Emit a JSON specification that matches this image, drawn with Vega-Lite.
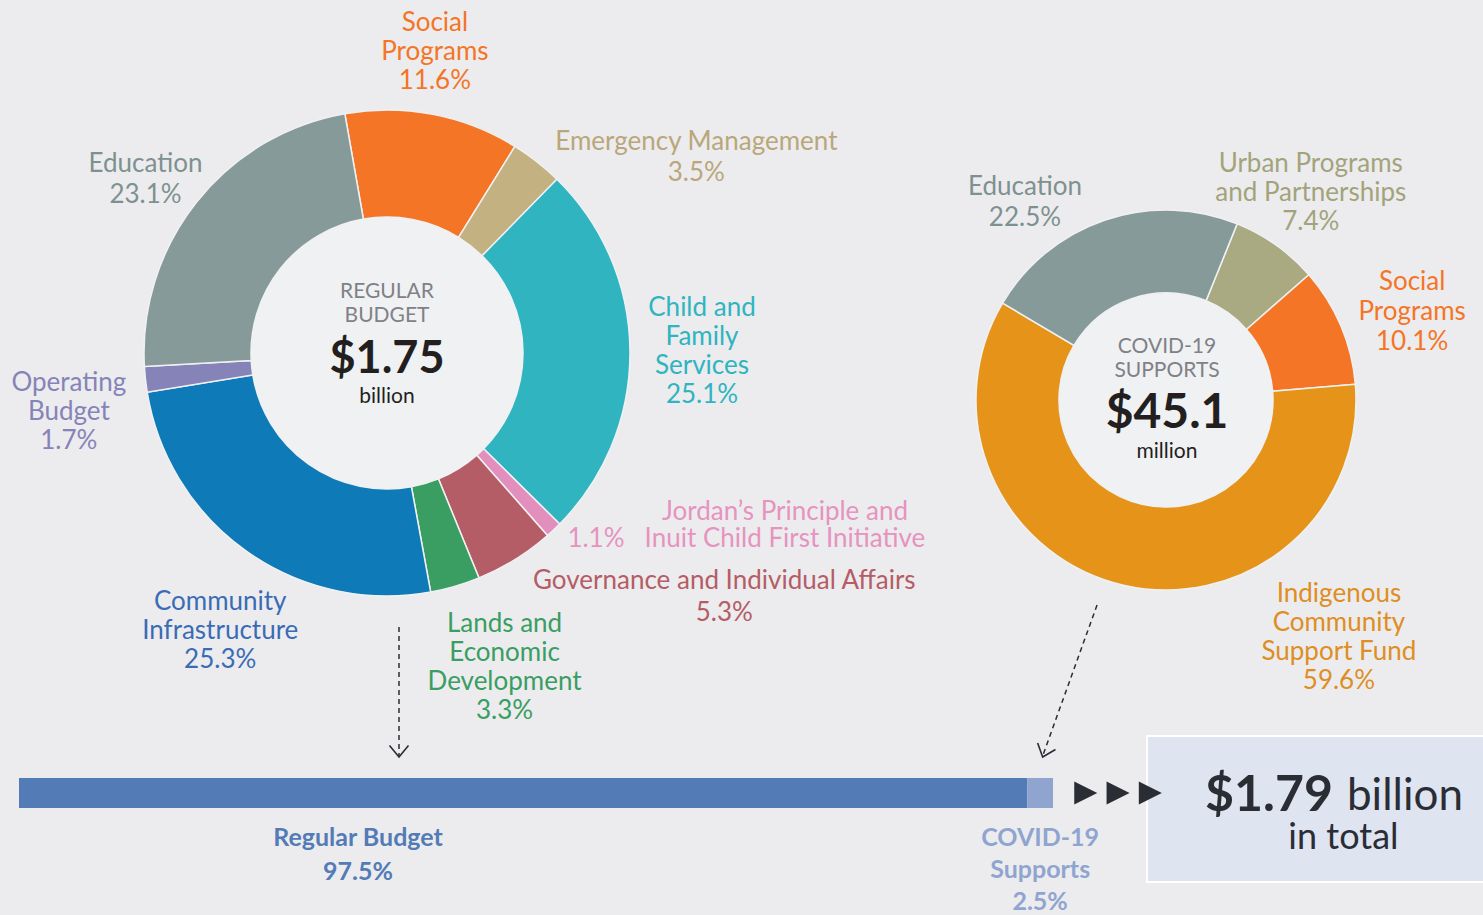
{
  "$schema": "https://vega.github.io/schema/vega-lite/v6.json",
  "width": 1483,
  "height": 915,
  "padding": 0,
  "autosize": {"type": "none"},
  "background": "#ECECEE",
  "config": {"view": {"stroke": null}, "font": "Lato", "text": {"font": "Lato"}},
  "datasets": {
    "regular": [
      {"budget": "Regular Budget", "category": "Social Programs", "share": 11.6, "ord": 1, "label": "Social\nPrograms\n11.6%", "pct": "11.6%"},
      {"budget": "Regular Budget", "category": "Emergency Management", "share": 3.5, "ord": 2, "label": "Emergency Management\n3.5%", "pct": "3.5%"},
      {"budget": "Regular Budget", "category": "Child and Family Services", "share": 25.1, "ord": 3, "label": "Child and\nFamily\nServices\n25.1%", "pct": "25.1%"},
      {"budget": "Regular Budget", "category": "Jordan’s Principle and Inuit Child First Initiative", "share": 1.1, "ord": 4, "label": "Jordan’s Principle and\nInuit Child First Initiative", "pct": "1.1%"},
      {"budget": "Regular Budget", "category": "Governance and Individual Affairs", "share": 5.3, "ord": 5, "label": "Governance and Individual Affairs\n5.3%", "pct": "5.3%"},
      {"budget": "Regular Budget", "category": "Lands and Economic Development", "share": 3.3, "ord": 6, "label": "Lands and\nEconomic\nDevelopment\n3.3%", "pct": "3.3%"},
      {"budget": "Regular Budget", "category": "Community Infrastructure", "share": 25.3, "ord": 7, "label": "Community\nInfrastructure\n25.3%", "pct": "25.3%"},
      {"budget": "Regular Budget", "category": "Operating Budget", "share": 1.7, "ord": 8, "label": "Operating\nBudget\n1.7%", "pct": "1.7%"},
      {"budget": "Regular Budget", "category": "Education", "share": 23.1, "ord": 9, "label": "Education\n23.1%", "pct": "23.1%"}
    ],
    "covid": [
      {"budget": "COVID-19 Supports", "category": "Urban Programs and Partnerships", "share": 7.4, "ord": 1, "label": "Urban Programs\nand Partnerships\n7.4%"},
      {"budget": "COVID-19 Supports", "category": "Social Programs", "share": 10.1, "ord": 2, "label": "Social\nPrograms\n10.1%"},
      {"budget": "COVID-19 Supports", "category": "Indigenous Community Support Fund", "share": 59.6, "ord": 3, "label": "Indigenous\nCommunity\nSupport Fund\n59.6%"},
      {"budget": "COVID-19 Supports", "category": "Education", "share": 22.5, "ord": 4, "label": "Education\n22.5%"}
    ],
    "budgets": [
      {"budget": "Regular Budget", "share": 97.5, "ord": 1, "heading": "REGULAR\nBUDGET", "amount": "$1.75", "unit": "billion", "barLabel": "Regular Budget\n97.5%"},
      {"budget": "COVID-19 Supports", "share": 2.5, "ord": 2, "heading": "COVID-19\nSUPPORTS", "amount": "$45.1", "unit": "million", "barLabel": "COVID-19\nSupports\n2.5%"}
    ],
    "total": [
      {"amount": "$1.79", "unit": "billion", "note": "in total"}
    ]
  },
  "layer": [
    {
      "data": {"name": "regular"},
      "encoding": {
        "x": {"field": "budget", "type": "nominal", "scale": {"type": "point", "domain": ["Regular Budget", "COVID-19 Supports"], "range": [387, 1166], "padding": 0}, "axis": null},
        "y": {"field": "budget", "type": "nominal", "scale": {"type": "point", "domain": ["Regular Budget", "COVID-19 Supports"], "range": [353, 400], "padding": 0}, "axis": null},
        "theta": {"field": "share", "type": "quantitative", "stack": true, "scale": {"domain": [0, 100], "range": [-0.1745, 6.1087]}},
        "order": {"field": "ord", "type": "quantitative", "sort": "ascending"},
        "color": {"field": "category", "type": "nominal", "legend": null, "scale": {
          "domain": ["Social Programs", "Emergency Management", "Child and Family Services", "Jordan’s Principle and Inuit Child First Initiative", "Governance and Individual Affairs", "Lands and Economic Development", "Community Infrastructure", "Operating Budget", "Education", "Urban Programs and Partnerships", "Indigenous Community Support Fund"],
          "range": ["#F47526", "#C4B181", "#2FB4C0", "#E28FBD", "#B55D66", "#3A9D62", "#0E7AB8", "#8683B8", "#879A9A", "#A9A982", "#E59419"]}}
      },
      "layer": [
        {"mark": {"type": "arc", "outerRadius": 136, "innerRadius": 0, "stroke": "#F0F1F3", "strokeWidth": 1}, "encoding": {"color": {"value": "#F0F1F3"}}},
        {"mark": {"type": "arc", "outerRadius": 243, "innerRadius": 136, "stroke": "#F0F1F3", "strokeWidth": 1.5}},
        {"mark": {"type": "text", "radius": 312, "dx": -11, "dy": -24, "fontSize": 26, "lineHeight": 29, "lineBreak": "\n"}, "encoding": {"text": {"condition": {"test": "datum.category === 'Social Programs'", "field": "label"}, "value": ""}}},
        {"mark": {"type": "text", "radius": 312, "dx": 117, "dy": 35, "fontSize": 26, "lineHeight": 31, "lineBreak": "\n"}, "encoding": {"text": {"condition": {"test": "datum.category === 'Emergency Management'", "field": "label"}, "value": ""}, "color": {"value": "#B9A77B"}}},
        {"mark": {"type": "text", "radius": 312, "dx": 3, "dy": -43, "fontSize": 26, "lineHeight": 29, "lineBreak": "\n"}, "encoding": {"text": {"condition": {"test": "datum.category === 'Child and Family Services'", "field": "label"}, "value": ""}}},
        {"mark": {"type": "text", "radius": 312, "dx": 184, "dy": -68, "fontSize": 26, "lineHeight": 27, "lineBreak": "\n"}, "encoding": {"text": {"condition": {"test": "datum.ord === 4", "field": "label"}, "value": ""}, "color": {"value": "#E693C0"}}},
        {"mark": {"type": "text", "radius": 312, "dx": -5, "dy": -41, "fontSize": 26, "lineBreak": "\n"}, "encoding": {"text": {"condition": {"test": "datum.ord === 4", "field": "pct"}, "value": ""}, "color": {"value": "#E693C0"}}},
        {"mark": {"type": "text", "radius": 312, "dx": 173, "dy": -37, "fontSize": 26, "lineHeight": 32, "lineBreak": "\n"}, "encoding": {"text": {"condition": {"test": "datum.category === 'Governance and Individual Affairs'", "field": "label"}, "value": ""}}},
        {"mark": {"type": "text", "radius": 312, "dx": 30, "dy": -28, "fontSize": 26, "lineHeight": 29, "lineBreak": "\n"}, "encoding": {"text": {"condition": {"test": "datum.category === 'Lands and Economic Development'", "field": "label"}, "value": ""}}},
        {"mark": {"type": "text", "radius": 312, "dx": 13, "dy": -6, "fontSize": 26, "lineHeight": 29, "lineBreak": "\n"}, "encoding": {"text": {"condition": {"test": "datum.category === 'Community Infrastructure'", "field": "label"}, "value": ""}, "color": {"value": "#3A6CB5"}}},
        {"mark": {"type": "text", "radius": 312, "dx": -8, "dy": -4, "fontSize": 26, "lineHeight": 29, "lineBreak": "\n"}, "encoding": {"text": {"condition": {"test": "datum.category === 'Operating Budget'", "field": "label"}, "value": ""}}},
        {"mark": {"type": "text", "radius": 312, "dx": 3, "dy": 5, "fontSize": 26, "lineHeight": 31, "lineBreak": "\n"}, "encoding": {"text": {"condition": {"test": "datum.category === 'Education'", "field": "label"}, "value": ""}, "color": {"value": "#7E9190"}}}
      ]
    },
    {
      "data": {"name": "covid"},
      "encoding": {
        "x": {"field": "budget", "type": "nominal", "scale": {"type": "point", "domain": ["Regular Budget", "COVID-19 Supports"], "range": [387, 1166], "padding": 0}, "axis": null},
        "y": {"field": "budget", "type": "nominal", "scale": {"type": "point", "domain": ["Regular Budget", "COVID-19 Supports"], "range": [353, 400], "padding": 0}, "axis": null},
        "theta": {"field": "share", "type": "quantitative", "stack": true, "scale": {"domain": [0, 99.6], "range": [0.384, 6.667]}},
        "order": {"field": "ord", "type": "quantitative", "sort": "ascending"},
        "color": {"field": "category", "type": "nominal", "legend": null, "scale": {
          "domain": ["Social Programs", "Emergency Management", "Child and Family Services", "Jordan’s Principle and Inuit Child First Initiative", "Governance and Individual Affairs", "Lands and Economic Development", "Community Infrastructure", "Operating Budget", "Education", "Urban Programs and Partnerships", "Indigenous Community Support Fund"],
          "range": ["#F47526", "#C4B181", "#2FB4C0", "#E28FBD", "#B55D66", "#3A9D62", "#0E7AB8", "#8683B8", "#879A9A", "#A9A982", "#E59419"]}}
      },
      "layer": [
        {"mark": {"type": "arc", "outerRadius": 107, "innerRadius": 0, "stroke": "#F0F1F3", "strokeWidth": 1}, "encoding": {"color": {"value": "#F0F1F3"}}},
        {"mark": {"type": "arc", "outerRadius": 190, "innerRadius": 107, "stroke": "#F0F1F3", "strokeWidth": 1.5}},
        {"mark": {"type": "text", "radius": 250, "dx": 0, "dy": -32, "fontSize": 26, "lineHeight": 29, "lineBreak": "\n"}, "encoding": {"text": {"condition": {"test": "datum.ord === 1", "field": "label"}, "value": ""}, "color": {"value": "#A3A37B"}}},
        {"mark": {"type": "text", "radius": 250, "dx": 16, "dy": -20, "fontSize": 26, "lineHeight": 30, "lineBreak": "\n"}, "encoding": {"text": {"condition": {"test": "datum.ord === 2", "field": "label"}, "value": ""}}},
        {"mark": {"type": "text", "radius": 250, "dx": 229, "dy": -50, "fontSize": 26, "lineHeight": 29, "lineBreak": "\n"}, "encoding": {"text": {"condition": {"test": "datum.ord === 3", "field": "label"}, "value": ""}, "color": {"value": "#DE8E22"}}},
        {"mark": {"type": "text", "radius": 250, "dx": -61, "dy": 24, "fontSize": 26, "lineHeight": 31, "lineBreak": "\n"}, "encoding": {"text": {"condition": {"test": "datum.ord === 4", "field": "label"}, "value": ""}, "color": {"value": "#7E9190"}}}
      ]
    },
    {
      "data": {"name": "budgets"},
      "encoding": {
        "x": {"field": "budget", "type": "nominal", "scale": {"type": "point", "domain": ["Regular Budget", "COVID-19 Supports"], "range": [387, 1167], "padding": 0}, "axis": null},
        "y": {"field": "budget", "type": "nominal", "scale": {"type": "point", "domain": ["Regular Budget", "COVID-19 Supports"], "range": [353, 408], "padding": 0}, "axis": null}
      },
      "layer": [
        {"mark": {"type": "text", "fontSize": 21, "lineHeight": 24, "lineBreak": "\n", "color": "#7F8186", "dy": -61}, "encoding": {"text": {"field": "heading"}}},
        {"mark": {"type": "text", "fontWeight": "bold", "color": "#231F20", "dy": 6}, "encoding": {"text": {"field": "amount"}, "size": {"field": "budget", "type": "nominal", "legend": null, "scale": {"domain": ["Regular Budget", "COVID-19 Supports"], "range": [45, 48]}}}},
        {"mark": {"type": "text", "fontSize": 21, "color": "#231F20", "dy": 44}, "encoding": {"text": {"field": "unit"}}}
      ]
    },
    {
      "data": {"name": "budgets"},
      "transform": [{"stack": "share", "groupby": [], "sort": [{"field": "ord", "order": "ascending"}], "as": ["s0", "s1"]}],
      "encoding": {
        "x": {"field": "s0", "type": "quantitative", "scale": {"domain": [0, 100], "range": [19, 1053], "nice": false}, "axis": null},
        "y": {"datum": "total", "type": "nominal", "scale": {"type": "band", "domain": ["total"], "range": [778, 808], "paddingInner": 0, "paddingOuter": 0}, "axis": null},
        "color": {"field": "budget", "type": "nominal", "legend": null, "scale": {"domain": ["Regular Budget", "COVID-19 Supports"], "range": ["#537BB6", "#8FA5D0"]}}
      },
      "layer": [
        {"mark": {"type": "bar"}, "encoding": {"x2": {"field": "s1"}}},
        {"mark": {"type": "text", "fontSize": 25, "fontWeight": "bold", "lineBreak": "\n", "lineHeight": 34, "baseline": "alphabetic", "dx": 339, "dy": 53}, "encoding": {"text": {"condition": {"test": "datum.ord === 1", "field": "barLabel"}, "value": ""}}},
        {"mark": {"type": "text", "fontSize": 25, "fontWeight": "bold", "lineBreak": "\n", "lineHeight": 32, "baseline": "alphabetic", "dx": 13, "dy": 53}, "encoding": {"text": {"condition": {"test": "datum.ord === 2", "field": "barLabel"}, "value": ""}}}
      ]
    },
    {
      "data": {"name": "total"},
      "layer": [
        {"mark": {"type": "rect", "fill": "#DEE4F0", "stroke": "#FFFFFF", "strokeWidth": 2},
         "encoding": {
           "x": {"datum": 109.1, "type": "quantitative", "scale": {"domain": [0, 100], "range": [19, 1053], "nice": false, "zero": false}, "axis": null},
           "x2": {"datum": 145},
           "y": {"datum": 736, "type": "quantitative", "scale": {"domain": [0, 915], "range": [0, 915], "nice": false, "zero": false}, "axis": null},
           "y2": {"datum": 882}}},
        {"mark": {"type": "rule", "strokeDash": [5, 4], "strokeWidth": 1.5, "color": "#2B2D35"},
         "encoding": {
           "x": {"datum": 36.75, "type": "quantitative"},
           "y": {"datum": 627, "type": "quantitative"},
           "y2": {"datum": 756}}},
        {"mark": {"type": "rule", "strokeDash": [5, 4], "strokeWidth": 1.5, "color": "#2B2D35"},
         "encoding": {
           "x": {"datum": 104.26, "type": "quantitative"},
           "x2": {"datum": 99.0},
           "y": {"datum": 605, "type": "quantitative"},
           "y2": {"datum": 756}}},
        {"mark": {"type": "point", "shape": "M -1 -1.2 L 0 0 L 1 -1.2", "filled": false, "size": 361, "strokeWidth": 1.6, "color": "#2B2D35", "opacity": 1},
         "encoding": {"x": {"datum": 36.75, "type": "quantitative"}, "y": {"datum": 757, "type": "quantitative"}}},
        {"mark": {"type": "point", "shape": "M -1 -1.2 L 0 0 L 1 -1.2", "filled": false, "size": 361, "strokeWidth": 1.6, "color": "#2B2D35", "opacity": 1, "angle": 20},
         "encoding": {"x": {"datum": 99.0, "type": "quantitative"}, "y": {"datum": 757, "type": "quantitative"}}},
        {"mark": {"type": "point", "shape": "M -1 -1 L 1 0 L -1 1 Z", "filled": true, "size": 529, "color": "#2B2D35", "opacity": 1},
         "encoding": {"x": {"datum": 103.17, "type": "quantitative"}, "y": {"datum": 793, "type": "quantitative"}}},
        {"mark": {"type": "point", "shape": "M -1 -1 L 1 0 L -1 1 Z", "filled": true, "size": 529, "color": "#2B2D35", "opacity": 1},
         "encoding": {"x": {"datum": 106.29, "type": "quantitative"}, "y": {"datum": 793, "type": "quantitative"}}},
        {"mark": {"type": "point", "shape": "M -1 -1 L 1 0 L -1 1 Z", "filled": true, "size": 529, "color": "#2B2D35", "opacity": 1},
         "encoding": {"x": {"datum": 109.41, "type": "quantitative"}, "y": {"datum": 793, "type": "quantitative"}}},
        {"mark": {"type": "text", "fontSize": 50, "fontWeight": "bold", "align": "right", "baseline": "alphabetic", "color": "#2B2D35"},
         "encoding": {"text": {"field": "amount"}, "x": {"datum": 127.08, "type": "quantitative"}, "y": {"datum": 811, "type": "quantitative"}}},
        {"mark": {"type": "text", "fontSize": 44, "align": "left", "baseline": "alphabetic", "color": "#2B2D35"},
         "encoding": {"text": {"field": "unit"}, "x": {"datum": 128.43, "type": "quantitative"}, "y": {"datum": 810, "type": "quantitative"}}},
        {"mark": {"type": "text", "fontSize": 36, "align": "center", "baseline": "alphabetic", "color": "#2B2D35"},
         "encoding": {"text": {"field": "note"}, "x": {"datum": 128.09, "type": "quantitative"}, "y": {"datum": 849, "type": "quantitative"}}}
      ]
    }
  ],
  "resolve": {"scale": {"x": "independent", "y": "independent", "theta": "independent", "color": "independent", "size": "independent"}}
}
